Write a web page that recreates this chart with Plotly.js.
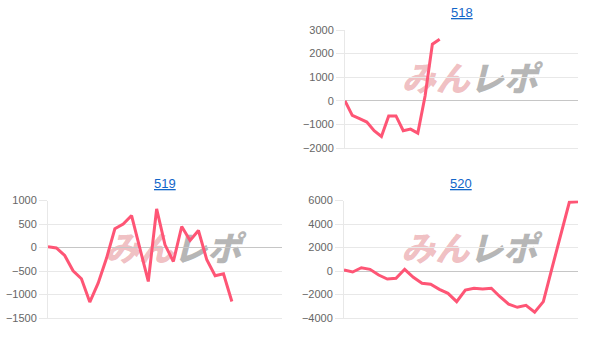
<!DOCTYPE html>
<html>
<head>
<meta charset="utf-8">
<script src="https://cdn.plot.ly/plotly-3.0.1.min.js"></script>
<style>html,body{margin:0;padding:0;background:#fff;}#chart{width:608px;height:347px;}</style>
</head>
<body>
<div id="chart"></div>
<script>
// Machine titles
const titles = ["518", "519", "520"];
// Series values (difference), one point per slot
const values518 = [0, -620, -760, -900, -1270, -1510, -640, -640, -1270, -1200, -1370, 200, 2400, 2610];
const values519 = [15, -10, -170, -495, -665, -1160, -760, -230, 398, 500, 680, -30, -723, 820, 57, -298, 447, 149, 362, -262, -602, -560, -1149];
const values520 = [85, -85, 280, 145, -340, -680, -620, 145, -540, -1050, -1130, -1560, -1900, -2610, -1620, -1470, -1530, -1470, -2190, -2830, -3090, -2920, -3510, -2610, 250, 3000, 5850, 5900];
// Axis settings
const slots = [32, 28, 27];
const yRanges = [[-2000, 3000], [-1500, 1000], [-4000, 6000]];
const yDticks = [1000, 500, 2000];
const watermarkPink = "みん";
const watermarkGray = "レポ";

const W = 608, H = 347;
const lineColor = "#fe5575";
const gridColor = "#e8e8e8";

const series = [values518, values519, values520];
const axSuffix = ["", "2", "3"];
// plot boxes in pixels: [left, right, top, bottom]
const boxes = [[345, 578, 30, 148], [48, 282, 200.5, 318], [344, 578, 200.5, 318]];

const traces = series.map((v, i) => ({
  y: v,
  type: "scatter",
  mode: "lines",
  line: {color: lineColor, width: 3},
  xaxis: "x" + axSuffix[i],
  yaxis: "y" + axSuffix[i],
  hoverinfo: "y"
}));

const layout = {
  width: W, height: H,
  margin: {l: 0, r: 0, t: 0, b: 0},
  paper_bgcolor: "#fff",
  plot_bgcolor: "#fff",
  showlegend: false,
  font: {family: "Liberation Sans, Arial, sans-serif", color: "#666"},
  annotations: [],
  shapes: []
};

boxes.forEach((b, i) => {
  const s = axSuffix[i];
  layout["xaxis" + s] = {
    domain: [b[0] / W, b[1] / W],
    range: [0, slots[i]],
    showgrid: false,
    zeroline: false,
    showticklabels: false,
    ticks: "",
    showline: true,
    linecolor: gridColor,
    linewidth: 1,
    anchor: "y" + s,
    fixedrange: true
  };
  layout["yaxis" + s] = {
    domain: [1 - b[3] / H, 1 - b[2] / H],
    range: yRanges[i],
    dtick: yDticks[i],
    tick0: 0,
    showgrid: true,
    gridcolor: gridColor,
    gridwidth: 1,
    zeroline: true,
    zerolinecolor: "#c6c6c6",
    zerolinewidth: 1,
    showline: true,
    linecolor: gridColor,
    linewidth: 1,
    ticks: "outside",
    ticklen: 8,
    tickcolor: gridColor,
    tickfont: {size: 11, color: "#666", family: "Liberation Sans, Arial, sans-serif"},
    anchor: "x" + s,
    fixedrange: true
  };
  layout.annotations.push({
    text: "<u>" + titles[i] + "</u>",
    xref: "paper", yref: "paper",
    x: (b[0] + b[1]) / 2 / W,
    y: 1 - (b[2] - 17) / H,
    xanchor: "center", yanchor: "middle",
    showarrow: false,
    font: {size: 13, color: "#1266c9", family: "Liberation Sans, Arial, sans-serif"}
  });
  layout.shapes.push({
    type: "rect",
    xref: "x" + s + " domain", yref: "y" + s + " domain",
    x0: 0.2, x1: 0.87, y0: 0.42, y1: 0.71,
    line: {width: 0},
    fillcolor: "rgba(0,0,0,0)",
    layer: "below",
    label: {
      text: '<i><span style="color:rgba(215,90,100,0.4)">' + watermarkPink + '</span><span style="color:rgba(110,110,110,0.5)">' + watermarkGray + '</span></i>',
      font: {size: 34, family: "Noto Sans CJK JP, sans-serif", weight: 900},
      textposition: "middle center"
    }
  });
});

Plotly.newPlot("chart", traces, layout, {displayModeBar: false, staticPlot: true});
</script>
</body>
</html>
